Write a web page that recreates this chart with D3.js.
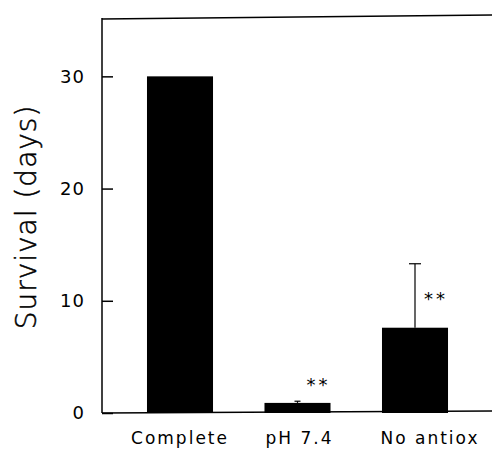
<!DOCTYPE html>
<html>
<head>
<meta charset="utf-8">
<script src="https://cdn.jsdelivr.net/npm/d3@7"></script>
<style>
  body { margin: 0; background: #fff; }
  text { font-family: "DejaVu Sans", sans-serif; fill: #000; }
</style>
</head>
<body>
<script>
var categories = ['Complete', 'pH 7.4', 'No antiox'];
var survival = [30, 0.9, 7.6];
var errorUp = [0, 0.15, 5.7];
var stars = ['', '**', '**'];
var starAt = [0, 2.7, 10.3];
var yTicks = [0, 10, 20, 30];

var screen = { width: 492, height: 453 };
var margins = { left: 102, right: 0, top: 18, bottom: 40 };

var svg = d3.select('body').append('svg')
            .attr('width', screen.width)
            .attr('height', screen.height);

var yScale = d3.scaleLinear()
               .domain([0, 35.2])
               .range([413, margins.top]);

var xScale = d3.scaleBand()
               .domain(categories)
               .range([121.25, 473.75])
               .paddingInner(0.438)
               .paddingOuter(0.219);

// frame: left, bottom, top (no right side)
svg.append('line')
   .attr('x1', margins.left).attr('x2', margins.left)
   .attr('y1', yScale.range()[1]).attr('y2', yScale(0))
   .attr('stroke', '#000').attr('stroke-width', 1.5);
svg.append('line')
   .attr('x1', margins.left).attr('x2', screen.width)
   .attr('y1', yScale(0)).attr('y2', yScale(0) - 2)
   .attr('stroke', '#000').attr('stroke-width', 1.5);
svg.append('line')
   .attr('x1', margins.left).attr('x2', screen.width)
   .attr('y1', yScale.range()[1] + 1).attr('y2', yScale.range()[1] - 3)
   .attr('stroke', '#000').attr('stroke-width', 1.5);

// y axis, ticks pointing inward
var yAxis = d3.axisRight(yScale)
              .tickValues(yTicks)
              .tickSize(11)
              .tickFormat(d3.format('d'));
var yg = svg.append('g')
            .attr('transform', 'translate(' + margins.left + ',0)')
            .call(yAxis);
yg.select('.domain').remove();
yg.selectAll('.tick line').attr('stroke', '#000').attr('stroke-width', 1.5);
yg.selectAll('.tick text')
  .attr('x', -17)
  .attr('text-anchor', 'end')
  .attr('font-size', 18)
  .attr('font-family', '"DejaVu Sans", sans-serif')
  .attr('fill', '#000')
  .attr('letter-spacing', 1);

svg.append('text')
   .attr('transform', 'translate(36,217) rotate(-90)')
   .attr('text-anchor', 'middle')
   .attr('font-size', 28)
   .attr('font-weight', 200)
   .attr('stroke', '#000')
   .attr('stroke-width', 0.5)
   .attr('letter-spacing', 1)
   .text('Survival (days)');

// bars
svg.selectAll('rect.bar')
   .data(categories)
   .enter()
   .append('rect')
   .classed('bar', true)
   .attr('x', function(d){ return xScale(d); })
   .attr('width', xScale.bandwidth())
   .attr('y', function(d, i){ return yScale(survival[i]); })
   .attr('height', function(d, i){ return yScale(0) - yScale(survival[i]); })
   .attr('fill', '#000');

// error bars (upper only)
categories.forEach(function(c, i){
  if (errorUp[i] <= 0) return;
  var cx = xScale(c) + xScale.bandwidth() / 2;
  var top = yScale(survival[i] + errorUp[i]);
  var cap = errorUp[i] < 1 ? 3 : 6;
  svg.append('line')
     .attr('x1', cx).attr('x2', cx)
     .attr('y1', yScale(survival[i])).attr('y2', top)
     .attr('stroke', '#000').attr('stroke-width', 1.2);
  svg.append('line')
     .attr('x1', cx - cap).attr('x2', cx + cap)
     .attr('y1', top).attr('y2', top)
     .attr('stroke', '#000').attr('stroke-width', 1.2);

  if (stars[i]) {
    svg.append('text')
       .attr('x', cx + 21)
       .attr('y', yScale(starAt[i]) + 8)
       .attr('text-anchor', 'middle')
       .attr('font-size', 18)
       .attr('letter-spacing', 3)
       .text(stars[i]);
  }
});

// category labels
var labelShift = [0, 2, 15];
svg.selectAll('text.cat')
   .data(categories)
   .enter()
   .append('text')
   .classed('cat', true)
   .attr('x', function(d, i){ return xScale(d) + xScale.bandwidth() / 2 + labelShift[i]; })
   .attr('y', 444)
   .attr('text-anchor', 'middle')
   .attr('font-size', 17)
   .attr('letter-spacing', 2)
   .text(function(d){ return d; });
</script>
</body>
</html>
